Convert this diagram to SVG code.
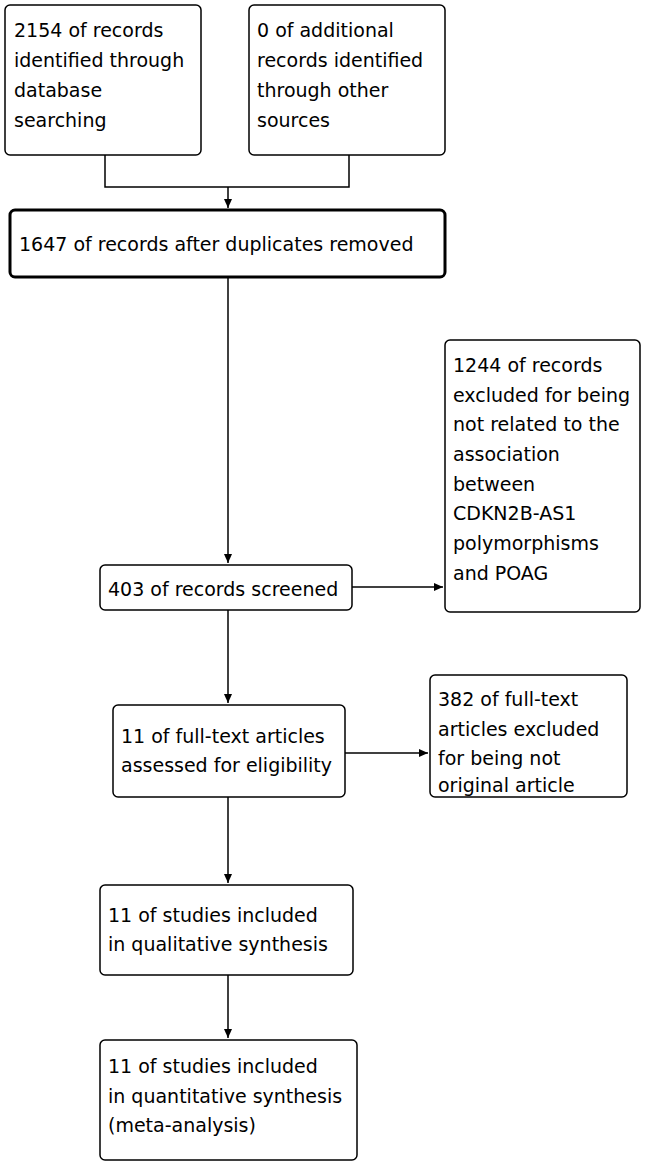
<svg xmlns="http://www.w3.org/2000/svg" width="645" height="1166" viewBox="0 0 645 1166">
<style>
rect{fill:#fff;stroke:#000;stroke-width:1.5}
.thick{stroke-width:3}
text{font-family:"DejaVu Sans",sans-serif;font-size:19px;fill:#000}
.c{fill:none;stroke:#000;stroke-width:1.5}
</style>
<defs><marker id="a" markerWidth="10" markerHeight="10" refX="9" refY="5" orient="auto" markerUnits="userSpaceOnUse"><path d="M0,1 L9,5 L0,9 z" fill="#000"/></marker></defs>
<g id="connectors">
<path class="c" d="M105,155 V187 H349 V155"/>
<path class="c" d="M228,187 V208" marker-end="url(#a)"/>
<path class="c" d="M228,277 V563" marker-end="url(#a)"/>
<path class="c" d="M352,587 H443" marker-end="url(#a)"/>
<path class="c" d="M228,610 V703" marker-end="url(#a)"/>
<path class="c" d="M345,753 H428" marker-end="url(#a)"/>
<path class="c" d="M228,797 V883" marker-end="url(#a)"/>
<path class="c" d="M228,975 V1038" marker-end="url(#a)"/>
</g>
<g id="n1"><rect x="5" y="5" width="196" height="150" rx="5"/><text x="14" y="37">2154 of records</text><text x="14" y="67">identified through</text><text x="14" y="97">database</text><text x="14" y="127">searching</text></g>
<g id="n2"><rect x="249" y="5" width="196" height="150" rx="5"/><text x="257" y="37">0 of additional</text><text x="257" y="67">records identified</text><text x="257" y="97">through other</text><text x="257" y="127">sources</text></g>
<g id="n3"><rect class="thick" x="10" y="210" width="435" height="67" rx="5"/><text x="19" y="251">1647 of records after duplicates removed</text></g>
<g id="n4"><rect x="100" y="565" width="252" height="45" rx="5"/><text x="108" y="596">403 of records screened</text></g>
<g id="n5"><rect x="445" y="340" width="195" height="272" rx="5"/><text x="453" y="372">1244 of records</text><text x="453" y="402">excluded for being</text><text x="453" y="431">not related to the</text><text x="453" y="461">association</text><text x="453" y="491">between</text><text x="453" y="520">CDKN2B-AS1</text><text x="453" y="550">polymorphisms</text><text x="453" y="580">and POAG</text></g>
<g id="n6"><rect x="113" y="705" width="232" height="92" rx="5"/><text x="121" y="743">11 of full-text articles</text><text x="121" y="772">assessed for eligibility</text></g>
<g id="n7"><rect x="430" y="675" width="197" height="122" rx="5"/><text x="438" y="706">382 of full-text</text><text x="438" y="736">articles excluded</text><text x="438" y="765">for being not</text><text x="438" y="795" dy="-3">original article</text></g>
<g id="n8"><rect x="100" y="885" width="253" height="90" rx="5"/><text x="108" y="922">11 of studies included</text><text x="108" y="951">in qualitative synthesis</text></g>
<g id="n9"><rect x="100" y="1040" width="257" height="120" rx="5"/><text x="108" y="1073">11 of studies included</text><text x="108" y="1103">in quantitative synthesis</text><text x="108" y="1132">(meta-analysis)</text></g>
</svg>
